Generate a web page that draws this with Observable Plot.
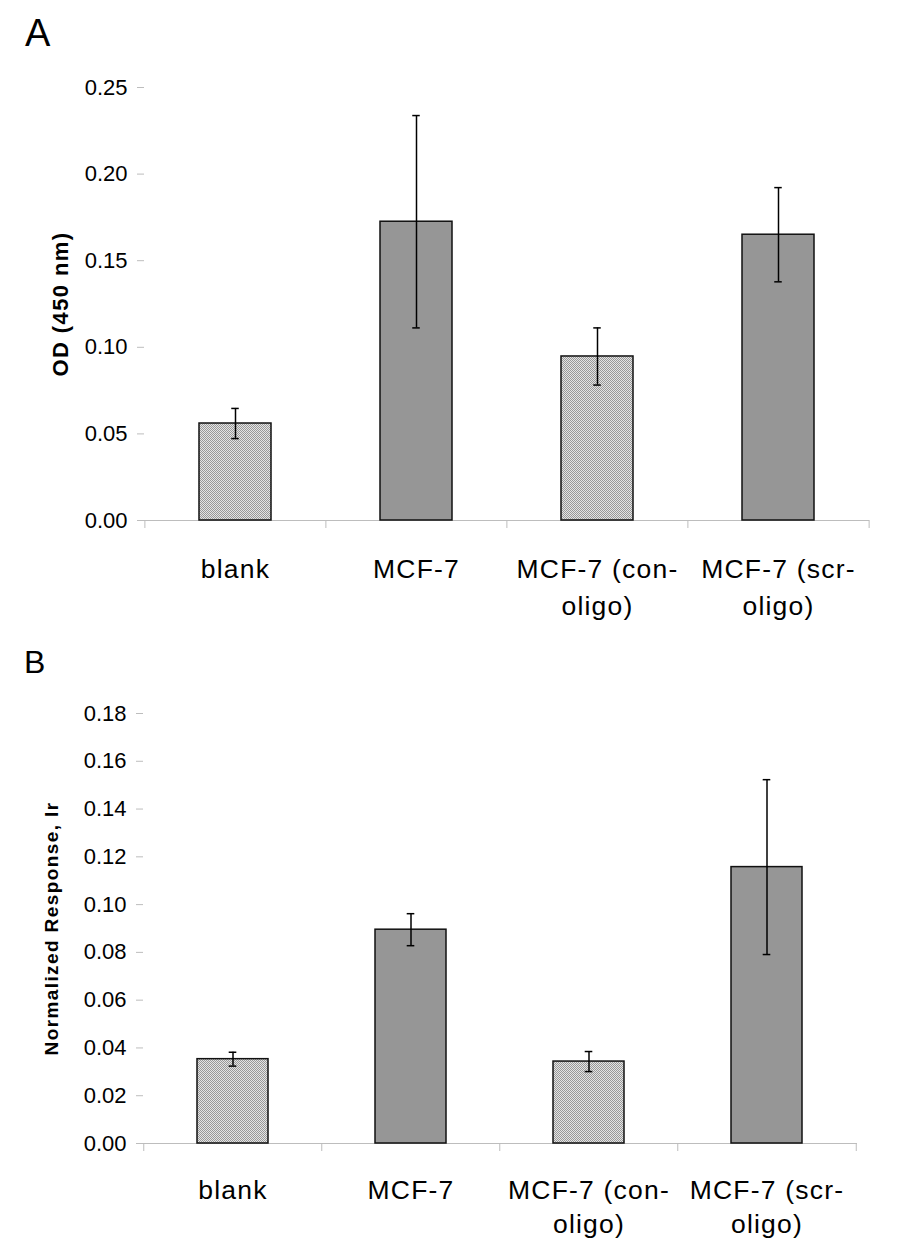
<!DOCTYPE html>
<html>
<head>
<meta charset="utf-8">
<script src="https://cdn.jsdelivr.net/npm/d3@7"></script>
<script src="https://cdn.jsdelivr.net/npm/@observablehq/plot@0.6"></script>
<style>
  html, body { margin: 0; padding: 0; background: #fff; }
  #page { position: relative; width: 902px; height: 1254px; overflow: hidden; background: #fff;
          font-family: "Liberation Sans", Arial, Helvetica, sans-serif; }
  .panel { position: absolute; left: 0; }
  .letter { position: absolute; line-height: 1; color: #000; font-family: "Liberation Sans", Arial, sans-serif; }
  #page .cat-label text { letter-spacing: 1.2px; }
  #page .ytitle text { letter-spacing: 1.4px; }
</style>
</head>
<body>
<div id="page">
  <svg width="0" height="0" style="position:absolute">
    <defs>
      <pattern id="chk" width="2" height="2" patternUnits="userSpaceOnUse">
        <rect width="2" height="2" fill="#e4e4e4"></rect>
        <rect width="1" height="1" fill="#989898"></rect>
        <rect x="1" y="1" width="1" height="1" fill="#989898"></rect>
      </pattern>
    </defs>
  </svg>
  <div class="letter" style="left:25px; top:14px; font-size:38px;">A</div>
  <div class="letter" style="left:24px; top:646px; font-size:32px;">B</div>
  <div id="panelA" class="panel" style="top:0px;"></div>
  <div id="panelB" class="panel" style="top:640px;"></div>
</div>
<script>
// ---- data ----
const categories = ["blank", "MCF-7", "MCF-7 (con-oligo)", "MCF-7 (scr-oligo)"];
const categoryLabels = ["blank", "MCF-7", "MCF-7 (con-\noligo)", "MCF-7 (scr-\noligo)"];
const patterned = [true, false, true, false];

const odMean = [0.056, 0.1725, 0.0947, 0.165];
const odErr = [0.0087, 0.0613, 0.0165, 0.0272];
const odTicks = [0.00, 0.05, 0.10, 0.15, 0.20, 0.25];
const odTitle = "OD (450 nm)";

const irMean = [0.0353, 0.0895, 0.0343, 0.1157];
const irErr = [0.0029, 0.0067, 0.0042, 0.0366];
const irTicks = [0.00, 0.02, 0.04, 0.06, 0.08, 0.10, 0.12, 0.14, 0.16, 0.18];
const irTitle = "Normalized Response, Ir";

function panel(means, errs, ticks, title, cfg) {
  const data = categories.map((c, i) => ({
    cat: c, label: categoryLabels[i], v: means[i], e: errs[i], pat: patterned[i]
  }));
  const W = 902;
  const halfStep = (W - cfg.ml - cfg.mr) / categories.length / 2;
  const capInset = (halfStep * 2 * 0.4 - 8) / 2;
  return Plot.plot({
    width: W,
    height: cfg.height,
    marginTop: cfg.mt,
    marginBottom: cfg.mb,
    marginLeft: cfg.ml,
    marginRight: cfg.mr,
    style: { fontFamily: '"Liberation Sans", Arial, Helvetica, sans-serif', fontSize: "22px", color: "#000", background: "transparent", overflow: "visible" },
    x: { domain: categories, paddingInner: 0.6, paddingOuter: 0.3, axis: null },
    y: { domain: [ticks[0], ticks[ticks.length - 1]], axis: null },
    marks: [
      // y axis with ticks and line
      Plot.axisY({ ticks, tickFormat: d3.format(".2f"), tickSize: 7, tickPadding: 10, stroke: "#bdbdbd", fill: "#000", line: true, label: null, fontSize: 22 }),
      // x axis baseline
      Plot.ruleY([0], { stroke: "#bdbdbd", strokeWidth: 1 }),
      // category boundary ticks
      Plot.ruleX(data, { x: "cat", y1: 0, y2: 0, insetBottom: -8, dx: -halfStep, stroke: "#bdbdbd" }),
      Plot.ruleX(data.slice(-1), { x: "cat", y1: 0, y2: 0, insetBottom: -8, dx: halfStep, stroke: "#bdbdbd" }),
      // bars
      Plot.barY(data.filter(d => d.pat), { x: "cat", y: "v", fill: "url(#chk)", stroke: "#111", strokeWidth: 1.5 }),
      Plot.barY(data.filter(d => !d.pat), { x: "cat", y: "v", fill: "#969696", stroke: "#111", strokeWidth: 1.5 }),
      // error bars
      Plot.ruleX(data, { x: "cat", y1: d => d.v - d.e, y2: d => d.v + d.e, stroke: "#000", strokeWidth: 1.5 }),
      Plot.tickY(data, { x: "cat", y: d => d.v + d.e, insetLeft: capInset, insetRight: capInset, stroke: "#000", strokeWidth: 1.5 }),
      Plot.tickY(data, { x: "cat", y: d => d.v - d.e, insetLeft: capInset, insetRight: capInset, stroke: "#000", strokeWidth: 1.5 }),
      // category labels
      Plot.text(data, { x: "cat", text: "label", frameAnchor: "bottom", lineAnchor: "top", dy: cfg.labelDy, fontSize: 26.5, lineHeight: cfg.lineHeight, fill: "#000", className: "cat-label" }),
      // y title
      Plot.text([title], { frameAnchor: "left", textAnchor: "middle", rotate: -90, dx: cfg.titleDx, fontSize: cfg.titleSize, fontWeight: "bold", fill: "#000", lineAnchor: "middle", className: "ytitle" })
    ]
  });
}

document.getElementById("panelA").append(
  panel(odMean, odErr, odTicks, odTitle, { height: 640, mt: 87, mb: 120, ml: 144, mr: 33, labelDy: 31, lineHeight: 1.4, titleDx: -84, titleSize: 22 })
);
document.getElementById("panelB").append(
  panel(irMean, irErr, irTicks, irTitle, { height: 614, mt: 73, mb: 111, ml: 143, mr: 45, labelDy: 31, lineHeight: 1.28, titleDx: -92, titleSize: 19 })
);
</script>
</body>
</html>
